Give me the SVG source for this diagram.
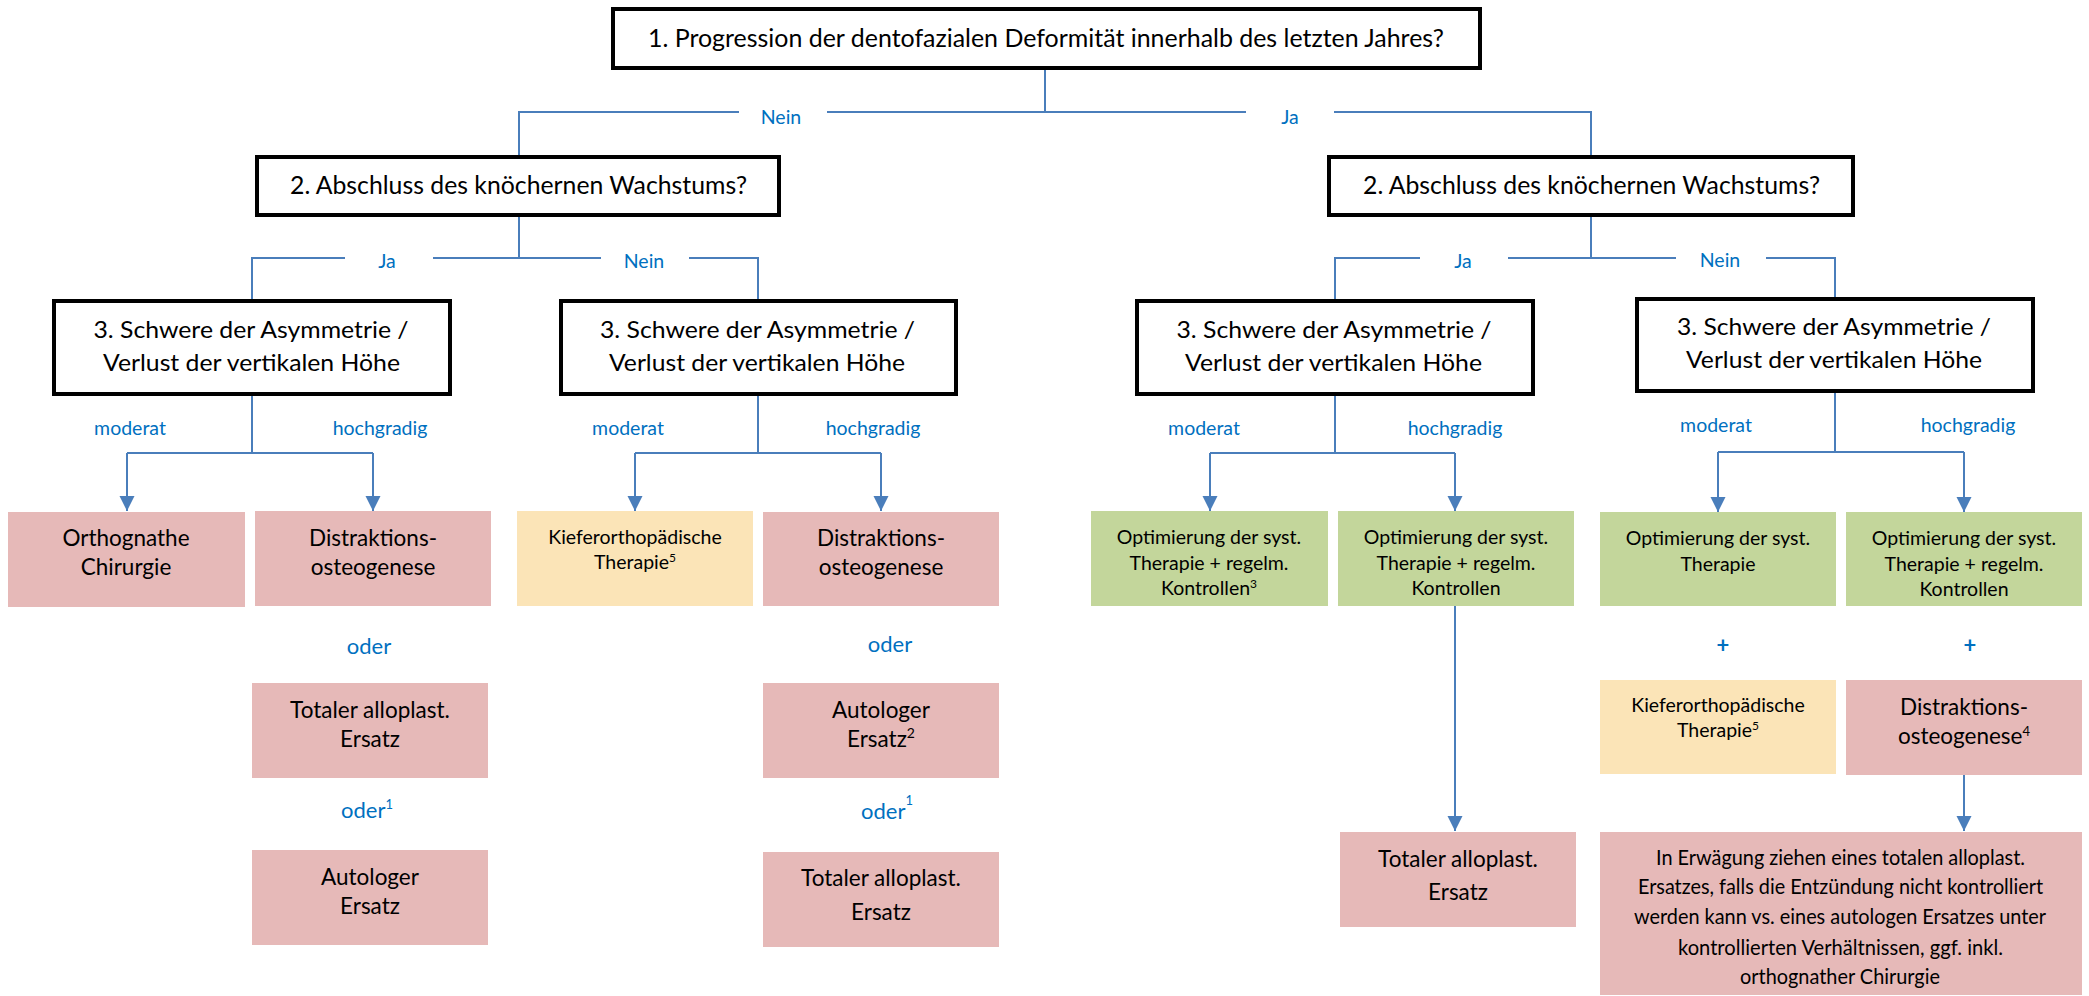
<svg xmlns="http://www.w3.org/2000/svg" width="2089" height="996" viewBox="0 0 2089 996">
<defs>
<style>
.q{fill:#fff;stroke:#000;stroke-width:4}
.pink{fill:#E6B9B8}
.yel{fill:#FBE4B7}
.grn{fill:#C3D69B}
.c{fill:none;stroke:#4A7EBB;stroke-width:2}
text{font-family:Lato,"Liberation Sans",sans-serif;text-anchor:middle;fill:#000}
.h{font-size:25px}
.m{font-size:23px}
.b{font-size:22.5px}
.s{font-size:19.5px}
.k{font-size:20.7px}
.l{font-size:19.5px;fill:#0070C0}
.o{font-size:22px;fill:#0070C0}
.p{font-size:22px;fill:#0070C0;font-weight:bold}
</style>
<marker id="ah" markerUnits="userSpaceOnUse" markerWidth="16" markerHeight="16" viewBox="0 0 16 16" refX="15" refY="8" orient="auto">
<path d="M0,0.5 L15,8 L0,15.5 z" fill="#4A7EBB"/>
</marker>
</defs>
<rect width="2089" height="996" fill="#fff"/>

<g id="connectors">
<path class="c" d="M1045,69 V112 M739,112 H519 V155 M827,112 H1246 M1334,112 H1591 V155"/>
<path class="c" d="M519,217 V258 M345,258 H252 V300 M433,258 H601 M689,258 H758 V300"/>
<path class="c" d="M1591,217 V258 M1420,258 H1335 V299 M1508,258 H1676 M1766,258 H1835 V297"/>
<path class="c" d="M252,396 V453 M127,453 H373"/>
<path class="c" d="M758,396 V453 M635,453 H881"/>
<path class="c" d="M1335,396 V453 M1210,453 H1455"/>
<path class="c" d="M1835,393 V452 M1718,452 H1964"/>
<path class="c" marker-end="url(#ah)" d="M127,453 V511"/>
<path class="c" marker-end="url(#ah)" d="M373,453 V511"/>
<path class="c" marker-end="url(#ah)" d="M635,453 V511"/>
<path class="c" marker-end="url(#ah)" d="M881,453 V511"/>
<path class="c" marker-end="url(#ah)" d="M1210,453 V511"/>
<path class="c" marker-end="url(#ah)" d="M1455,453 V511"/>
<path class="c" marker-end="url(#ah)" d="M1718,452 V512"/>
<path class="c" marker-end="url(#ah)" d="M1964,452 V512"/>
<path class="c" marker-end="url(#ah)" d="M1455,606 V831"/>
<path class="c" marker-end="url(#ah)" d="M1964,775 V831"/>
<text class="l" x="781" y="124">Nein</text>
<text class="l" x="1290" y="124">Ja</text>
<text class="l" x="387" y="268">Ja</text>
<text class="l" x="644" y="268">Nein</text>
<text class="l" x="1463" y="268">Ja</text>
<text class="l" x="1720" y="267">Nein</text>
<text class="l" x="130" y="435">moderat</text>
<text class="l" x="380" y="435">hochgradig</text>
<text class="l" x="628" y="435">moderat</text>
<text class="l" x="873" y="435">hochgradig</text>
<text class="l" x="1204" y="435">moderat</text>
<text class="l" x="1455" y="435">hochgradig</text>
<text class="l" x="1716" y="432">moderat</text>
<text class="l" x="1968" y="432">hochgradig</text>
<text class="o" x="369" y="654">oder</text>
<text class="o" x="890" y="652">oder</text>
<text class="o" x="367" y="818">oder<tspan font-size="13" dy="-9">1</tspan></text>
<text class="o" x="887" y="819">oder<tspan font-size="13" dy="-14">1</tspan></text>
<text class="p" x="1723" y="653">+</text>
<text class="p" x="1970" y="653">+</text>
</g>

<g id="n1"><rect class="q" x="613" y="9" width="867" height="59"/><text class="h" x="1046" y="47" textLength="796" lengthAdjust="spacingAndGlyphs">1. Progression der dentofazialen Deformität innerhalb des letzten Jahres?</text></g>
<g id="n2a"><rect class="q" x="257" y="157" width="522" height="58"/><text class="h" x="518.5" y="194" textLength="457" lengthAdjust="spacingAndGlyphs">2. Abschluss des knöchernen Wachstums?</text></g>
<g id="n2b"><rect class="q" x="1329" y="157" width="524" height="58"/><text class="h" x="1591.5" y="194" textLength="457" lengthAdjust="spacingAndGlyphs">2. Abschluss des knöchernen Wachstums?</text></g>

<g id="n3a"><rect class="q" x="54" y="301" width="396" height="93"/><text class="m" x="251" y="338" textLength="315" lengthAdjust="spacingAndGlyphs">3. Schwere der Asymmetrie /</text><text class="m" x="251.5" y="371" textLength="297" lengthAdjust="spacingAndGlyphs">Verlust der vertikalen Höhe</text></g>
<g id="n3b"><rect class="q" x="561" y="301" width="395" height="93"/><text class="m" x="757.5" y="338" textLength="315" lengthAdjust="spacingAndGlyphs">3. Schwere der Asymmetrie /</text><text class="m" x="757" y="371" textLength="296" lengthAdjust="spacingAndGlyphs">Verlust der vertikalen Höhe</text></g>
<g id="n3c"><rect class="q" x="1137" y="301" width="396" height="93"/><text class="m" x="1334" y="338" textLength="315" lengthAdjust="spacingAndGlyphs">3. Schwere der Asymmetrie /</text><text class="m" x="1333.5" y="371" textLength="297" lengthAdjust="spacingAndGlyphs">Verlust der vertikalen Höhe</text></g>
<g id="n3d"><rect class="q" x="1637" y="299" width="396" height="92"/><text class="m" x="1834" y="335" textLength="314" lengthAdjust="spacingAndGlyphs">3. Schwere der Asymmetrie /</text><text class="m" x="1834" y="368" textLength="296" lengthAdjust="spacingAndGlyphs">Verlust der vertikalen Höhe</text></g>

<g id="l1"><rect class="pink" x="8" y="512" width="237" height="95"/><text class="b" x="126" y="546">Orthognathe</text><text class="b" x="126" y="575">Chirurgie</text></g>
<g id="l2"><rect class="pink" x="255" y="511" width="236" height="95"/><text class="b" x="373" y="546">Distraktions-</text><text class="b" x="373" y="575">osteogenese</text></g>
<g id="l2b"><rect class="pink" x="252" y="683" width="236" height="95"/><text class="b" x="370" y="718">Totaler alloplast.</text><text class="b" x="370" y="747">Ersatz</text></g>
<g id="l2c"><rect class="pink" x="252" y="850" width="236" height="95"/><text class="b" x="370" y="885">Autologer</text><text class="b" x="370" y="914">Ersatz</text></g>

<g id="l3"><rect class="yel" x="517" y="511" width="236" height="95"/><text class="s" x="635" y="544">Kieferorthopädische</text><text class="s" x="635" y="569">Therapie<tspan font-size="12" dy="-7">5</tspan></text></g>
<g id="l4"><rect class="pink" x="763" y="512" width="236" height="94"/><text class="b" x="881" y="546">Distraktions-</text><text class="b" x="881" y="575">osteogenese</text></g>
<g id="l4b"><rect class="pink" x="763" y="683" width="236" height="95"/><text class="b" x="881" y="718">Autologer</text><text class="b" x="881" y="747">Ersatz<tspan font-size="14" dy="-9">2</tspan></text></g>
<g id="l4c"><rect class="pink" x="763" y="852" width="236" height="95"/><text class="b" x="881" y="886">Totaler alloplast.</text><text class="b" x="881" y="920">Ersatz</text></g>

<g id="g1"><rect class="grn" x="1091" y="511" width="237" height="95"/><text class="s" x="1209" y="544">Optimierung der syst.</text><text class="s" x="1209" y="570">Therapie + regelm.</text><text class="s" x="1209" y="595">Kontrollen<tspan font-size="12" dy="-7">3</tspan></text></g>
<g id="g2"><rect class="grn" x="1338" y="511" width="236" height="95"/><text class="s" x="1456" y="544">Optimierung der syst.</text><text class="s" x="1456" y="570">Therapie + regelm.</text><text class="s" x="1456" y="595">Kontrollen</text></g>
<g id="g2b"><rect class="pink" x="1340" y="832" width="236" height="95"/><text class="b" x="1458" y="867">Totaler alloplast.</text><text class="b" x="1458" y="900">Ersatz</text></g>

<g id="g3"><rect class="grn" x="1600" y="512" width="236" height="94"/><text class="s" x="1718" y="545">Optimierung der syst.</text><text class="s" x="1718" y="571">Therapie</text></g>
<g id="g3b"><rect class="yel" x="1600" y="680" width="236" height="94"/><text class="s" x="1718" y="712">Kieferorthopädische</text><text class="s" x="1718" y="737">Therapie<tspan font-size="12" dy="-7">5</tspan></text></g>
<g id="g4"><rect class="grn" x="1846" y="512" width="236" height="94"/><text class="s" x="1964" y="545">Optimierung der syst.</text><text class="s" x="1964" y="571">Therapie + regelm.</text><text class="s" x="1964" y="596">Kontrollen</text></g>
<g id="g4b"><rect class="pink" x="1846" y="680" width="236" height="95"/><text class="b" x="1964" y="715">Distraktions-</text><text class="b" x="1964" y="744">osteogenese<tspan font-size="13" dy="-8">4</tspan></text></g>
<g id="big"><rect class="pink" x="1600" y="832" width="482" height="163"/>
<text class="k" x="1840.5" y="865" textLength="369" lengthAdjust="spacingAndGlyphs">In Erwägung ziehen eines totalen alloplast.</text>
<text class="k" x="1840.5" y="894" textLength="405" lengthAdjust="spacingAndGlyphs">Ersatzes, falls die Entzündung nicht kontrolliert</text>
<text class="k" x="1840" y="924" textLength="412" lengthAdjust="spacingAndGlyphs">werden kann vs. eines autologen Ersatzes unter</text>
<text class="k" x="1840.5" y="955" textLength="325" lengthAdjust="spacingAndGlyphs">kontrollierten Verhältnissen, ggf. inkl.</text>
<text class="k" x="1840" y="984" textLength="200" lengthAdjust="spacingAndGlyphs">orthognather Chirurgie</text></g>
</svg>
